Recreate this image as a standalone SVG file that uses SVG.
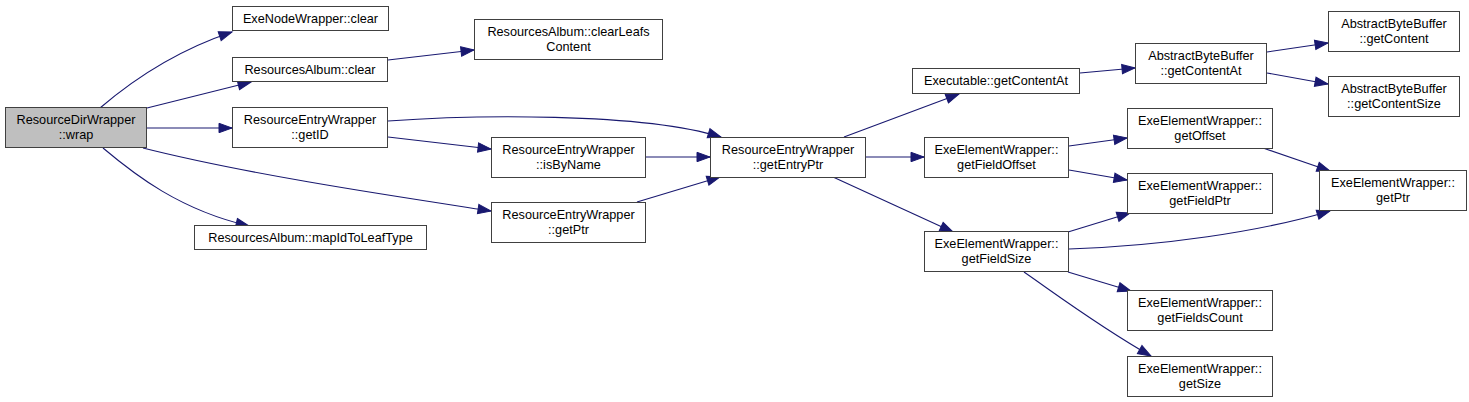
<svg xmlns="http://www.w3.org/2000/svg" width="1469" height="402" viewBox="0 0 1469 402">
<defs>
<style>
.n rect{fill:#ffffff;stroke:#404040;stroke-width:1}
.n.root rect{fill:#bfbfbf}
.n text{font-family:"Liberation Sans",Arial,Helvetica,sans-serif;font-size:12.7px;fill:#000000;text-anchor:middle}
.e path{fill:none;stroke:#191970;stroke-width:1.1}
</style>
<marker id="arr" markerWidth="14" markerHeight="10" refX="13" refY="5" orient="auto" markerUnits="userSpaceOnUse" overflow="visible">
<path d="M0,0.3 L13,5 L0,9.7 z" fill="#191970" stroke="#191970" stroke-width="1"/>
</marker>
</defs>
<rect width="1469" height="402" fill="#ffffff"/>
<g id="edges" class="e" marker-end="url(#arr)">
<path d="M100,108 C128,84 172,52 232,32" marker-end="url(#arr)"/>
<path d="M147,108 L251,82" marker-end="url(#arr)"/>
<path d="M147,128 L232,128" marker-end="url(#arr)"/>
<path d="M143,148 C250,175 400,197 491,211" marker-end="url(#arr)"/>
<path d="M103,148 C135,175 180,210 249,226" marker-end="url(#arr)"/>
<path d="M388,60 L474,50" marker-end="url(#arr)"/>
<path d="M388,121 C470,115 640,112 721,137" marker-end="url(#arr)"/>
<path d="M388,137 L491,149" marker-end="url(#arr)"/>
<path d="M646,157 L710,157" marker-end="url(#arr)"/>
<path d="M637,202 L720,177" marker-end="url(#arr)"/>
<path d="M844,137 L959,94" marker-end="url(#arr)"/>
<path d="M866,157 L924,157" marker-end="url(#arr)"/>
<path d="M833,177 L953,232" marker-end="url(#arr)"/>
<path d="M1080,73 L1135,68" marker-end="url(#arr)"/>
<path d="M1267,52 L1328,43" marker-end="url(#arr)"/>
<path d="M1267,73 L1328,84" marker-end="url(#arr)"/>
<path d="M1069,146 L1127,138" marker-end="url(#arr)"/>
<path d="M1069,170 L1127,180" marker-end="url(#arr)"/>
<path d="M1263,148 L1330,171" marker-end="url(#arr)"/>
<path d="M1068,232 L1130,213" marker-end="url(#arr)"/>
<path d="M1069,249 C1160,246 1260,232 1330,211" marker-end="url(#arr)"/>
<path d="M1068,272 L1131,291" marker-end="url(#arr)"/>
<path d="M1024,272 C1060,297 1100,327 1151,356" marker-end="url(#arr)"/>
</g>
<g id="n0" class="n root"><rect x="5.5" y="107.5" width="141" height="40"/><text x="76" y="124">ResourceDirWrapper</text><text x="76" y="138.5">::wrap</text></g>
<g id="n1" class="n"><rect x="232.5" y="6.5" width="156" height="24"/><text x="310.5" y="22.5">ExeNodeWrapper::clear</text></g>
<g id="n2" class="n"><rect x="232.5" y="57.5" width="155" height="24"/><text x="310" y="73.5">ResourcesAlbum::clear</text></g>
<g id="n3" class="n"><rect x="232.5" y="107.5" width="155" height="40"/><text x="310" y="124">ResourceEntryWrapper</text><text x="310" y="138.5">::getID</text></g>
<g id="n4" class="n"><rect x="194.5" y="225.5" width="232" height="24"/><text x="310.5" y="241.5">ResourcesAlbum::mapIdToLeafType</text></g>
<g id="n5" class="n"><rect x="474.5" y="19.5" width="188" height="40"/><text x="568.5" y="36">ResourcesAlbum::clearLeafs</text><text x="568.5" y="50.5">Content</text></g>
<g id="n6" class="n"><rect x="491.5" y="137.5" width="154" height="40"/><text x="568.5" y="154">ResourceEntryWrapper</text><text x="568.5" y="168.5">::isByName</text></g>
<g id="n7" class="n"><rect x="491.5" y="202.5" width="154" height="40"/><text x="568.5" y="219">ResourceEntryWrapper</text><text x="568.5" y="233.5">::getPtr</text></g>
<g id="n8" class="n"><rect x="710.5" y="137.5" width="155" height="40"/><text x="788" y="154">ResourceEntryWrapper</text><text x="788" y="168.5">::getEntryPtr</text></g>
<g id="n9" class="n"><rect x="912.5" y="68.5" width="167" height="25"/><text x="996" y="85">Executable::getContentAt</text></g>
<g id="n10" class="n"><rect x="1135.5" y="43.5" width="131" height="40"/><text x="1201" y="60">AbstractByteBuffer</text><text x="1201" y="74.5">::getContentAt</text></g>
<g id="n11" class="n"><rect x="1328.5" y="11.5" width="131" height="40"/><text x="1394" y="28">AbstractByteBuffer</text><text x="1394" y="42.5">::getContent</text></g>
<g id="n12" class="n"><rect x="1328.5" y="76.5" width="131" height="40"/><text x="1394" y="93">AbstractByteBuffer</text><text x="1394" y="107.5">::getContentSize</text></g>
<g id="n13" class="n"><rect x="924.5" y="137.5" width="144" height="40"/><text x="996.5" y="154">ExeElementWrapper::</text><text x="996.5" y="168.5">getFieldOffset</text></g>
<g id="n14" class="n"><rect x="924.5" y="231.5" width="144" height="40"/><text x="996.5" y="248">ExeElementWrapper::</text><text x="996.5" y="262.5">getFieldSize</text></g>
<g id="n15" class="n"><rect x="1127.5" y="108.5" width="145" height="40"/><text x="1200" y="125">ExeElementWrapper::</text><text x="1200" y="139.5">getOffset</text></g>
<g id="n16" class="n"><rect x="1127.5" y="173.5" width="145" height="40"/><text x="1200" y="190">ExeElementWrapper::</text><text x="1200" y="204.5">getFieldPtr</text></g>
<g id="n17" class="n"><rect x="1127.5" y="290.5" width="145" height="40"/><text x="1200" y="307">ExeElementWrapper::</text><text x="1200" y="321.5">getFieldsCount</text></g>
<g id="n18" class="n"><rect x="1127.5" y="356.5" width="145" height="40"/><text x="1200" y="373">ExeElementWrapper::</text><text x="1200" y="387.5">getSize</text></g>
<g id="n19" class="n"><rect x="1319.5" y="170.5" width="147" height="40"/><text x="1393" y="187">ExeElementWrapper::</text><text x="1393" y="201.5">getPtr</text></g>
</svg>
